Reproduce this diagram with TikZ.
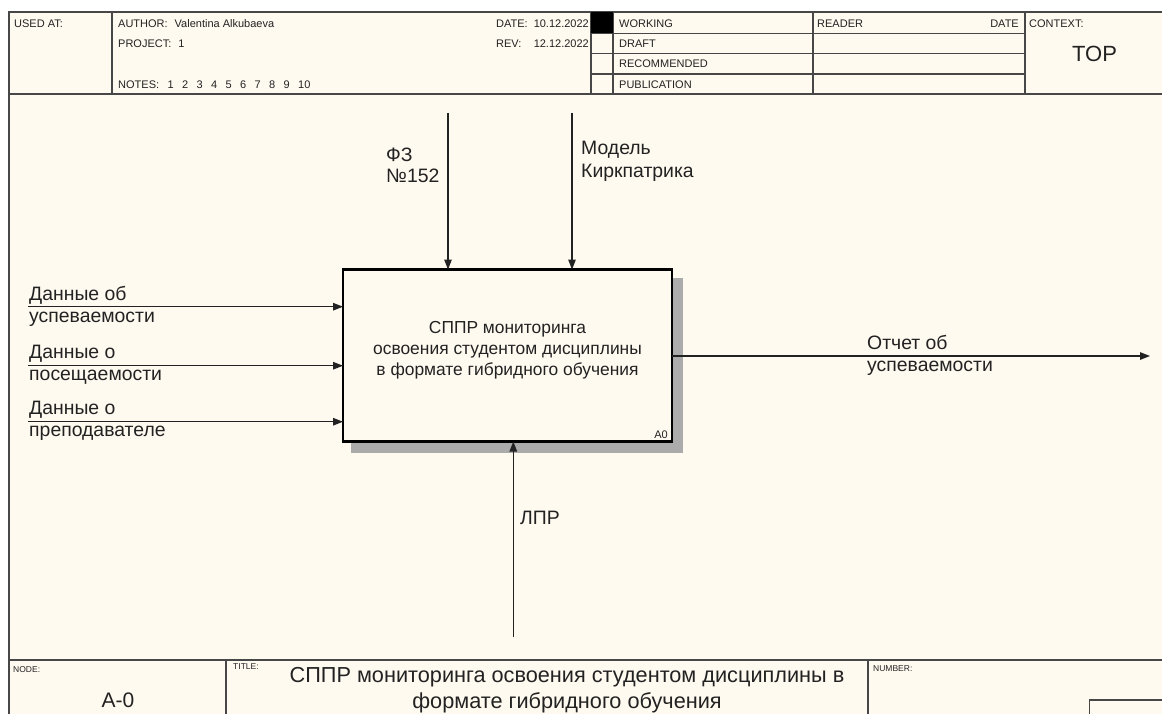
\documentclass[tikz,border=0pt]{standalone}
\usepackage{fontspec}
\setmainfont{Liberation Sans}
\usetikzlibrary{arrows.meta}
\definecolor{paper}{HTML}{FFFAF0}
\definecolor{ink}{HTML}{222222}
\begin{document}
\begin{tikzpicture}[x=1pt,y=-1pt,
  hdr/.style={font=\fontsize{11}{13}\selectfont, inner sep=0pt, anchor=base west, text=ink},
  hdrR/.style={hdr, anchor=base east},
  tiny/.style={font=\fontsize{8.5}{10}\selectfont, inner sep=0pt, anchor=base west, text=ink},
  lbl/.style={font=\fontsize{19.4}{23}\selectfont, inner sep=0pt, anchor=base west, text=ink},
  rule/.style={draw=black!72, line width=1.4pt},
  arr/.style={draw=ink, line width=1.3pt, -{Triangle[length=10pt,width=7.5pt]}},
  box/.style={draw=black, line width=2.6pt, fill=paper, minimum width=329pt, minimum height=172pt, inner sep=0pt, outer sep=0pt},
  shade/.style={fill=black!33}
]
\useasboundingbox (0,0) rectangle (1162,713);
\clip (0,0) rectangle (1162,713);
\fill[white] (0,0) rectangle (1162,713);
\fill[paper] (9,12) rectangle (1200,760);
% frame
\draw[rule] (1200,12) -- (9,12) -- (9,760);
\draw[rule] (9,94) -- (1200,94);
\foreach \x in {112,591,613,813,1025} \draw[rule] (\x,12) -- (\x,94);
\foreach \y in {33.3,53.5,74} \draw[rule] (591,\y) -- (1025,\y);
\fill[black] (591,12) rectangle (613,33.3);
% footer
\draw[rule] (9,660) -- (1200,660);
\draw[rule] (226,660) -- (226,760);
\draw[rule] (868,660) -- (868,760);
\draw[rule] (1200,700) -- (1089.5,700) -- (1089.5,760);
% header texts
\node[hdr] (usedat) at (14,27) {USED AT:};
\node[hdr] (author) at (118,27) {AUTHOR:\hspace{7pt}Valentina Alkubaeva};
\node[hdr] (project) at (118,47.3) {PROJECT:\hspace{7pt}1};
\node[hdr] (notes) at (118,88) {NOTES:\hspace{8.4pt}1\hspace{8.4pt}2\hspace{8.4pt}3\hspace{8.4pt}4\hspace{8.4pt}5\hspace{8.4pt}6\hspace{8.4pt}7\hspace{8.4pt}8\hspace{8.4pt}9\hspace{8.4pt}10};
\node[hdr] (datel) at (496,27) {DATE:};
\node[hdrR] (datev) at (589,27) {10.12.2022};
\node[hdr] (revl) at (496,47.3) {REV:};
\node[hdrR] (revv) at (589,47.3) {12.12.2022};
\node[hdr] (working) at (619,27) {WORKING};
\node[hdr] (draft) at (619,47.3) {DRAFT};
\node[hdr] (recom) at (619,67.6) {RECOMMENDED};
\node[hdr] (publ) at (619,88) {PUBLICATION};
\node[hdr] (reader) at (817,27) {READER};
\node[hdrR] (rdate) at (1019,27) {DATE};
\node[hdr] (context) at (1029,27) {CONTEXT:};
\node[font=\fontsize{22}{26}\selectfont, inner sep=0pt, anchor=base, text=ink] (top) at (1094.5,61.2) {TOP};
% footer texts
\node[tiny] (nodel) at (13,672) {NODE:};
\node[tiny] (titlel) at (233,669) {TITLE:};
\node[tiny] (numberl) at (873,671) {NUMBER:};
\node[font=\fontsize{21}{25}\selectfont, inner sep=0pt, anchor=base, text=ink] (nodev) at (118,707) {A-0};
\node[font=\fontsize{21.7}{26}\selectfont, inner sep=0pt, align=center, text=ink] (title) at (567,690) {СППР мониторинга освоения студентом дисциплины в\\формате гибридного обучения};
% activity box
\fill[shade] (351,441) rectangle (683,453);
\fill[shade] (672,278) rectangle (683,453);
\node[box] (a0) at (507.5,355.5) {};
\node[font=\fontsize{17.4}{20.8}\selectfont, align=center, text=ink, inner sep=0pt] (a0t) at (507.5,350) {СППР мониторинга\\освоения студентом дисциплины\\в формате гибридного обучения};
\node[hdrR] (a0n) at (668,438.5) {A0};
% controls
\coordinate (c1) at (448,112.7);
\coordinate (c2) at (572,112.7);
\draw[arr] (c1) -- (c1 |- a0.north);
\draw[arr] (c2) -- (c2 |- a0.north);
\node[lbl] (c1a) at (386,161.8) {ФЗ};
\node[lbl] (c1b) at (386,182.8) {№152};
\node[lbl] (c2a) at (581,154.5) {Модель};
\node[lbl] (c2b) at (581,177.5) {Киркпатрика};
% inputs
\coordinate (i1) at (28,306.7);
\coordinate (i2) at (28,365.7);
\coordinate (i3) at (28,421.7);
\draw[arr] (i1) -- (i1 -| a0.west);
\draw[arr] (i2) -- (i2 -| a0.west);
\draw[arr] (i3) -- (i3 -| a0.west);
\node[lbl] (i1a) at (29,300) {Данные об};
\node[lbl] (i1b) at (29,322.5) {успеваемости};
\node[lbl] (i2a) at (29,358.5) {Данные о};
\node[lbl] (i2b) at (29,380.5) {посещаемости};
\node[lbl] (i3a) at (29,414.5) {Данные о};
\node[lbl] (i3b) at (29,436.5) {преподавателе};
% output
\coordinate (o1) at (1150,356);
\draw[arr] (o1 -| a0.east) -- (o1);
\node[lbl] (o1a) at (867,349.5) {Отчет об};
\node[lbl] (o1b) at (867,371.7) {успеваемости};
% mechanism
\coordinate (m1) at (513.3,637.3);
\draw[arr] (m1) -- (m1 |- a0.south);
\node[lbl] (m1a) at (520,524.5) {ЛПР};
\end{tikzpicture}
\end{document}
